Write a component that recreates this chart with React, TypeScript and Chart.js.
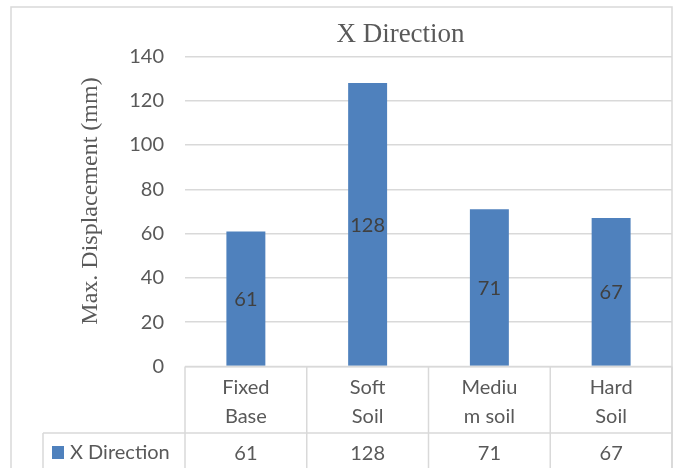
import React, { useEffect, useRef } from "react";
import { Chart, registerables } from "chart.js";

Chart.register(...registerables);

// Chart content
const chartTitle = "X Direction";
const yAxisTitle = "Max. Displacement (mm)";
const seriesName = "X Direction";
const categories: string[][] = [
  ["Fixed", "Base"],
  ["Soft", "Soil"],
  ["Mediu", "m soil"],
  ["Hard", "Soil"],
];
const values: number[] = [61, 128, 71, 67];
const yMin = 0;
const yMax = 140;
const yStep = 20;

const BAR_COLOR = "#4f81bd";
const TEXT_COLOR = "#595959";
const LABEL_COLOR = "#404040";
const LINE_COLOR = "#d9d9d9";
const SANS = "Lato, 'Open Sans', sans-serif";
const SERIF = "'Liberation Serif', 'Times New Roman', serif";

// Draws the frame, titles, the data table under the axis and the in-bar value labels
const tablePlugin = {
  id: "dataTable",
  afterDraw(chart: Chart) {
    const ctx = chart.ctx;
    const area = chart.chartArea;
    const xScale = chart.scales.x;
    const H = chart.height;
    const n = categories.length;
    const colW = (area.right - area.left) / n;
    const rowY = 433;

    ctx.save();
    ctx.strokeStyle = LINE_COLOR;
    ctx.lineWidth = 1.5;

    // outer frame
    ctx.beginPath();
    ctx.moveTo(11, H);
    ctx.lineTo(11, 7);
    ctx.lineTo(area.right, 7);
    ctx.lineTo(area.right, H);
    ctx.stroke();

    // table grid
    ctx.beginPath();
    ctx.moveTo(area.left, area.bottom);
    ctx.lineTo(area.right, area.bottom);
    ctx.moveTo(43, rowY);
    ctx.lineTo(area.right, rowY);
    ctx.moveTo(43, rowY);
    ctx.lineTo(43, H);
    for (let i = 0; i <= n; i++) {
      const x = xScale.getPixelForValue(Math.min(i, n - 1)) + (i === n ? colW / 2 : -colW / 2);
      ctx.moveTo(x, area.bottom);
      ctx.lineTo(x, H);
    }
    ctx.stroke();

    // category labels and values
    ctx.fillStyle = TEXT_COLOR;
    ctx.font = `20px ${SANS}`;
    ctx.textAlign = "center";
    ctx.textBaseline = "alphabetic";
    categories.forEach((lines, i) => {
      const cx = xScale.getPixelForValue(i);
      lines.forEach((t, j) => ctx.fillText(t, cx, 394 + j * 28.5));
      ctx.fillText(String(values[i]), cx, 460);
    });

    // legend key in the table
    ctx.fillStyle = BAR_COLOR;
    ctx.fillRect(52, 446, 12, 13);
    ctx.fillStyle = TEXT_COLOR;
    ctx.textAlign = "left";
    ctx.fillText(seriesName, 70, 459);

    // value labels inside bars
    const meta = chart.getDatasetMeta(0);
    ctx.fillStyle = LABEL_COLOR;
    ctx.textAlign = "center";
    meta.data.forEach((el: any, i: number) => {
      const cy = (el.y + el.base) / 2;
      ctx.fillText(String(values[i]), el.x, cy + 7.5);
    });

    // chart title
    ctx.fillStyle = TEXT_COLOR;
    ctx.font = `27px ${SERIF}`;
    ctx.fillText(chartTitle, 400.5, 42);

    // y-axis title
    ctx.font = `24px ${SERIF}`;
    ctx.translate(97, 201);
    ctx.rotate(-Math.PI / 2);
    ctx.fillText(yAxisTitle, 0, 0);
    ctx.restore();
  },
};

export default function App() {
  const canvasRef = useRef<HTMLCanvasElement | null>(null);

  useEffect(() => {
    if (!canvasRef.current) return;
    const chart = new Chart(canvasRef.current, {
      type: "bar",
      data: {
        labels: categories.map((c) => c.join(" ")),
        datasets: [
          {
            label: seriesName,
            data: values,
            backgroundColor: BAR_COLOR,
            borderWidth: 0,
            categoryPercentage: 1,
            barPercentage: 0.32,
          },
        ],
      },
      options: {
        responsive: false,
        animation: false,
        devicePixelRatio: 1,
        layout: { padding: { top: 56.4, right: 5, bottom: 0, left: 0 } },
        plugins: {
          legend: { display: false },
          title: { display: false },
          tooltip: { enabled: false },
        },
        scales: {
          x: {
            type: "category",
            offset: true,
            grid: { display: false, drawTicks: false },
            border: { display: false },
            ticks: { display: false },
            afterFit: (s: any) => {
              s.height = 101.5;
            },
          },
          y: {
            min: yMin,
            max: yMax,
            ticks: {
              stepSize: yStep,
              color: TEXT_COLOR,
              font: { family: SANS, size: 20 },
              padding: 21,
            },
            grid: { color: LINE_COLOR, lineWidth: 1.5, drawTicks: false },
            border: { display: false },
            afterFit: (s: any) => {
              s.width = 185;
            },
          },
        },
      },
      plugins: [tablePlugin],
    });
    return () => chart.destroy();
  }, []);

  return (
    <div style={{ position: "fixed", left: 0, top: 0, width: 677, height: 468, background: "#fff" }}>
      <canvas ref={canvasRef} width={677} height={468} />
    </div>
  );
}
